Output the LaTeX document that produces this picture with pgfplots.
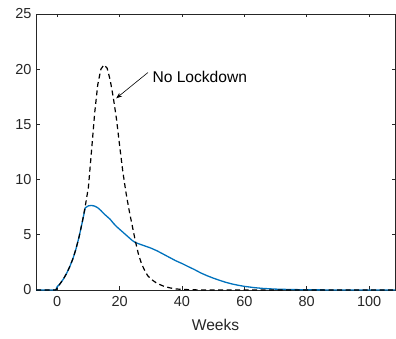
\documentclass[border=0pt]{standalone}
\usepackage{pgfplots}
\pgfplotsset{compat=1.18}
\usepackage{fontspec}
\setmainfont{Liberation Sans}
\usetikzlibrary{arrows.meta}
\definecolor{mblue}{rgb}{0,0.447,0.741}
\definecolor{axgray}{rgb}{0.15,0.15,0.15}
\begin{document}
\begin{tikzpicture}
\begin{axis}[
  scale only axis,
  width=359bp, height=276bp,
  xmin=-6.8, xmax=108.3, ymin=0, ymax=25,
  xtick={0,20,40,60,80,100},
  ytick={0,5,10,15,20,25},
  tick align=inside,
  major tick length=3.5bp,
  axis line style={axgray, line width=0.7bp},
  tick style={axgray, line width=0.7bp},
  ticklabel style={font=\fontsize{14.5bp}{16bp}\selectfont, text=axgray},
  xticklabel style={yshift=-3bp},
  yticklabel style={xshift=-1bp},
  /pgf/number format/assume math mode=true,
  xlabel={Weeks},
  xlabel style={font=\fontsize{15.6bp}{17bp}\selectfont, text=axgray, yshift=-6bp},
  clip=false,
]
\addplot[mblue, line width=1.3bp] coordinates {
(-6.8,0) (-0.5,0) (0,0.3) (1,0.6) (2,1.0) (3,1.5) (4,2.1) (5,2.8) (6,3.7) (7,4.8) (8,6.1) (9,7.45)
(10,7.62) (11,7.66) (12,7.6) (13,7.45) (14,7.2) (15,6.9) (16,6.65) (17,6.4) (18,6.05) (19,5.75)
(20,5.5) (21,5.25) (22,5.0) (23,4.75) (24,4.5) (25,4.3) (26,4.2) (27,4.1) (28,4.0) (30,3.8)
(32,3.55) (34,3.25) (36,2.95) (38,2.65) (40,2.4) (42,2.12) (44,1.85) (46,1.55) (48,1.3) (50,1.08)
(52,0.88) (54,0.7) (56,0.55) (58,0.43) (60,0.33) (63,0.22) (66,0.14) (70,0.08) (75,0.04)
(80,0.02) (90,0) (108.3,0)
};
\addplot[black, line width=1.2bp, dash pattern=on 5bp off 3.5bp] coordinates {
(-6.8,0) (-0.5,0) (0,0.15) (1,0.6) (2,1.0) (3,1.5) (4,2.1) (5,2.8) (6,3.7) (7,4.8) (8,6.1) (9,7.6)
(10,9.3) (11,12.6) (12,16.0) (13,18.6) (14,20.0) (15,20.4) (16,20.1) (17,19.0) (18,17.4) (19,15.5)
(20,13.1) (21,10.8) (22,8.9) (23,7.3) (24,5.9) (25,4.5) (26,3.3) (27,2.4) (28,1.8) (29,1.3)
(30,1.0) (32,0.6) (34,0.36) (36,0.2) (38,0.1) (40,0.05) (45,0.01) (50,0) (108.3,0)
};
\draw[-{Stealth[length=6bp,width=4.5bp]}, black, line width=0.6bp] (axis cs:29.1,19.7) -- (axis cs:18.9,17.36);
\node[anchor=west, inner sep=0, font=\fontsize{15.6bp}{17bp}\selectfont] at (axis cs:30.5,19.3) {No Lockdown};
\coordinate (bl) at (rel axis cs:0,0);
\coordinate (tr) at (rel axis cs:1,1);
\end{axis}
\path ([shift={(-36bp,-49bp)}]bl) rectangle ([shift={(1bp,14bp)}]tr);
\end{tikzpicture}
\end{document}
